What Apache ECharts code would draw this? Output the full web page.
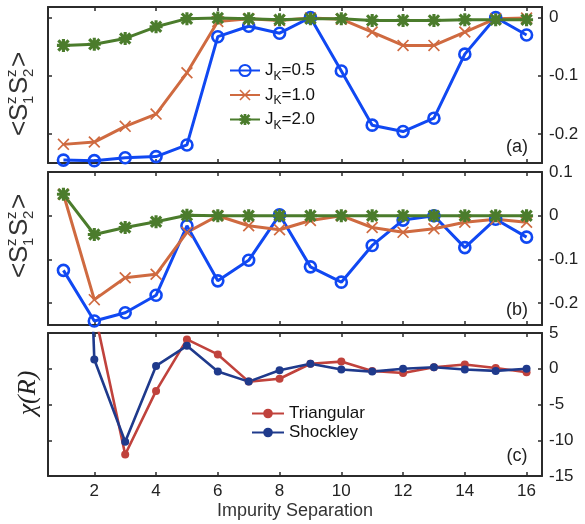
<!DOCTYPE html>
<html>
<head>
<meta charset="utf-8">
<script src="https://cdn.jsdelivr.net/npm/echarts@6/dist/echarts.min.js"></script>
<style>
  html, body { margin: 0; padding: 0; background: #fff; }
  #chart { width: 585px; height: 524px; }
</style>
</head>
<body>
<div id="chart"></div>
<script>
// impurity separation (x)
var separations = [1, 2, 3, 4, 5, 6, 7, 8, 9, 10, 11, 12, 13, 14, 15, 16];
var sepTicks = [2, 4, 6, 8, 10, 12, 14, 16];

// panel (a) <S1z S2z>
var a_J05 = [-0.245, -0.246, -0.241, -0.239, -0.219, -0.033, -0.015, -0.027, 0.0, -0.092, -0.185, -0.196, -0.173, -0.063, 0.0, -0.030];
var a_J10 = [-0.218, -0.214, -0.187, -0.166, -0.095, -0.007, -0.002, -0.005, -0.001, -0.003, -0.025, -0.048, -0.048, -0.025, -0.002, -0.001];
var a_J20 = [-0.048, -0.046, -0.036, -0.016, -0.002, -0.001, -0.002, -0.004, -0.002, -0.002, -0.005, -0.005, -0.005, -0.004, -0.004, -0.004];
var a_ticks = [-0.2, -0.1, 0];

// panel (b) <S1z S2z>
var b_J05 = [-0.125, -0.241, -0.222, -0.182, -0.023, -0.149, -0.102, 0.002, -0.117, -0.152, -0.068, -0.010, 0.0, -0.073, -0.008, -0.049];
var b_J10 = [0.049, -0.192, -0.142, -0.134, -0.038, 0.0, -0.023, -0.032, -0.011, 0.0, -0.027, -0.038, -0.030, -0.015, -0.008, -0.015];
var b_J20 = [0.049, -0.043, -0.027, -0.014, 0.001, 0.0, 0.0, 0.0, 0.0, 0.0, 0.0, 0.0, 0.0, 0.0, 0.0, 0.0];
var b_ticks = [-0.2, -0.1, 0, 0.1];

// panel (c) chi(R)
var c_triangular = [110, 8.1, -12.0, -3.1, 4.1, 2.0, -1.8, -1.4, 0.7, 1.0, -0.3, -0.6, 0.2, 0.6, 0.1, -0.5];
var c_shockley = [120, 1.3, -10.2, 0.4, 3.2, -0.4, -1.8, -0.2, 0.7, -0.1, -0.4, 0.0, 0.2, -0.1, -0.3, 0.0];
var c_ticks = [-15, -10, -5, 0, 5];

var FONT = "Liberation Sans";
var FRAME = "#2b2b2b";
var BLUE = "#1048f2", ORANGE = "#cf6a40", GREEN = "#4b7c2c";
var RED = "#c0423c", NAVY = "#1f3a8c";

var xMark = "path://M0,1L1,0L5,4L9,0L10,1L6,5L10,9L9,10L5,6L1,10L0,9L4,5Z";
var starMark = "path://M0,3.8L10,3.8L10,6.2L0,6.2ZM3.8,0L6.2,0L6.2,10L3.8,10Z" +
  "M1.9,0.2L9.8,8.1L8.1,9.8L0.2,1.9ZM8.1,0.2L9.8,1.9L1.9,9.8L0.2,8.1Z";

var grids = [
  { left: 48, right: 43, top: 7, height: 156 },
  { left: 48, right: 43, top: 172, height: 153 },
  { left: 48, right: 43, top: 333, height: 143 }
];

function pairs(ys) {
  return separations.map(function (x, i) { return [x, ys[i]]; });
}

function fmt(v) {
  return v === 0 ? "0" : String(Math.round(v * 100) / 100);
}

var xAxes = [], yAxes = [];
var yRanges = [[-0.25, 0.018, a_ticks], [-0.25, 0.1, b_ticks], [-15, 5, c_ticks]];
for (var g = 0; g < 3; g++) {
  ["bottom", "top"].forEach(function (pos) {
    var labels = g === 2 && pos === "bottom";
    xAxes.push({
      type: "value", gridIndex: g, position: pos, min: 0.5, max: 16.5,
      splitLine: { show: false },
      axisLine: { show: true, onZero: false, lineStyle: { color: FRAME, width: 2 } },
      axisTick: { show: true, inside: true, length: 4, customValues: sepTicks, lineStyle: { color: FRAME, width: 1.5 } },
      axisLabel: { show: labels, customValues: sepTicks, margin: 7, fontSize: 17, fontFamily: FONT, color: "#222" },
      name: labels ? "Impurity Separation" : "",
      nameLocation: "middle", nameGap: 26,
      nameTextStyle: { fontSize: 18, fontFamily: FONT, color: "#333" }
    });
  });
  ["right", "left"].forEach(function (pos) {
    var r = yRanges[g];
    yAxes.push({
      type: "value", gridIndex: g, position: pos, min: r[0], max: r[1],
      splitLine: { show: false },
      axisLine: { show: true, onZero: false, lineStyle: { color: FRAME, width: 2 } },
      axisTick: { show: true, inside: true, length: 4, customValues: r[2], lineStyle: { color: FRAME, width: 1.5 } },
      axisLabel: { show: pos === "right", customValues: r[2], margin: 7, fontSize: 17, fontFamily: FONT, color: "#222", formatter: fmt }
    });
  });
}

function lineSeries(name, g, ys, color, symbol, size, filled) {
  return {
    name: name, type: "line", xAxisIndex: 2 * g, yAxisIndex: 2 * g,
    data: pairs(ys), clip: true,
    symbol: symbol, symbolSize: size, showAllSymbol: true,
    lineStyle: { color: color, width: g === 2 ? 2.6 : 3 },
    itemStyle: filled ? { color: color } : { color: "rgba(255,255,255,0)", borderColor: color, borderWidth: 2.6 },
    emphasis: { disabled: true },
    z: 3
  };
}

var series = [
  lineSeries("JK=0.5", 0, a_J05, BLUE, "circle", 11, false),
  lineSeries("JK=1.0", 0, a_J10, ORANGE, xMark, 12, true),
  lineSeries("JK=2.0", 0, a_J20, GREEN, starMark, 13, true),
  lineSeries("JK=0.5", 1, b_J05, BLUE, "circle", 11, false),
  lineSeries("JK=1.0", 1, b_J10, ORANGE, xMark, 12, true),
  lineSeries("JK=2.0", 1, b_J20, GREEN, starMark, 13, true),
  lineSeries("Triangular", 2, c_triangular, RED, "circle", 8, true),
  lineSeries("Shockley", 2, c_shockley, NAVY, "circle", 8, true)
];

// rotated <S^z_1 S^z_2> label built from pieces
function sszLabel(x0, y0) {
  var big = "26px " + FONT, small = "15px " + FONT;
  var parts = [
    { t: "<", x: 0, y: 0, f: big },
    { t: "S", x: 15, y: 0, f: big },
    { t: "z", x: 32, y: -8, f: small },
    { t: "1", x: 32, y: 9, f: small },
    { t: "S", x: 42, y: 0, f: big },
    { t: "z", x: 59, y: -8, f: small },
    { t: "2", x: 59, y: 9, f: small },
    { t: ">", x: 69, y: 0, f: big }
  ];
  return {
    type: "group", x: x0, y: y0, rotation: Math.PI / 2,
    children: parts.map(function (p) {
      return { type: "text", x: p.x, y: p.y, style: { text: p.t, font: p.f, fill: "#333", textAlign: "left", textVerticalAlign: "middle" } };
    })
  };
}

var option = {
  backgroundColor: "#fff",
  animation: false,
  grid: grids,
  xAxis: xAxes,
  yAxis: yAxes,
  legend: [
    {
      data: ["JK=0.5", "JK=1.0", "JK=2.0"],
      orient: "vertical", left: 224, top: 57, itemGap: 4,
      itemWidth: 30, itemHeight: 14,
      formatter: function (n) { return "{a|J}{k|K}{a|" + n.slice(2) + "}"; },
      textStyle: {
        color: "#111",
        rich: {
          a: { fontSize: 17, fontFamily: FONT, lineHeight: 24 },
          k: { fontSize: 12, fontFamily: FONT, lineHeight: 12, verticalAlign: "bottom" }
        }
      }
    },
    {
      data: ["Triangular", "Shockley"],
      orient: "vertical", left: 246, top: 399, itemGap: 0,
      itemWidth: 32, itemHeight: 12,
      textStyle: { color: "#111", fontSize: 17, fontFamily: FONT, lineHeight: 19 }
    }
  ],
  graphic: [
    sszLabel(20, 136),
    sszLabel(20, 278),
    {
      type: "text", x: 28, y: 393, rotation: Math.PI / 2,
      style: { text: "\u03C7(R)", font: "italic 26px 'Liberation Serif'", fill: "#222", textAlign: "center", textVerticalAlign: "middle" }
    },
    { type: "text", x: 517, y: 147, style: { text: "(a)", font: "18px " + FONT, fill: "#222", textAlign: "center", textVerticalAlign: "middle" } },
    { type: "text", x: 517, y: 310, style: { text: "(b)", font: "18px " + FONT, fill: "#222", textAlign: "center", textVerticalAlign: "middle" } },
    { type: "text", x: 517, y: 456, style: { text: "(c)", font: "18px " + FONT, fill: "#222", textAlign: "center", textVerticalAlign: "middle" } }
  ],
  series: series
};

var myChart = echarts.init(document.getElementById("chart"));
myChart.setOption(option);
window.onresize = function () { myChart.resize(); };
</script>
</body>
</html>
